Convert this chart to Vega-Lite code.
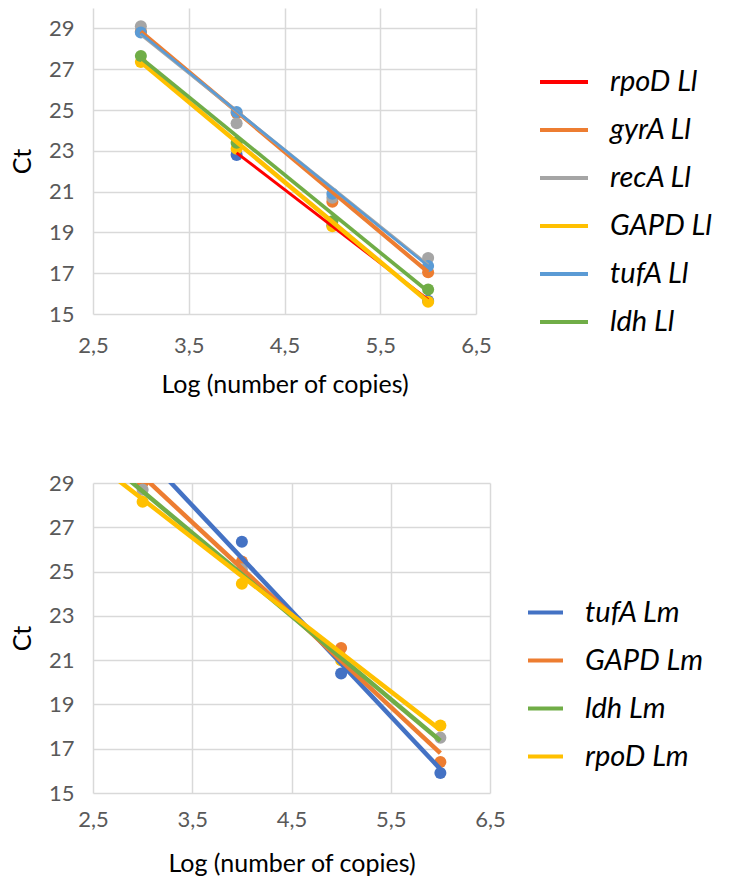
{
  "$schema": "https://vega.github.io/schema/vega-lite/v6.json",
  "padding": {"left": 10, "top": 8, "right": 0, "bottom": 0},
  "config": {
    "font": "Lato",
    "view": {"stroke": null},
    "axis": {
      "grid": true, "gridColor": "#d9d9d9", "gridWidth": 1.5, "domain": false, "ticks": false,
      "labelFont": "Lato", "labelFontSize": 22, "labelColor": "#595959", "labelFlush": false,
      "titleFont": "Lato", "titleFontSize": 25, "titleFontWeight": "normal", "titleColor": "black"
    }
  },
  "datasets": {
    "points": [
      {"chart": "Ll", "series": "rpoD Ll", "x": 4, "ct": 22.8},
      {"chart": "Ll", "series": "rpoD Ll", "x": 5, "ct": 19.35},
      {"chart": "Ll", "series": "rpoD Ll", "x": 6, "ct": 15.65},
      {"chart": "Ll", "series": "gyrA Ll", "x": 3, "ct": 28.85},
      {"chart": "Ll", "series": "gyrA Ll", "x": 4, "ct": 24.85},
      {"chart": "Ll", "series": "gyrA Ll", "x": 5, "ct": 20.5},
      {"chart": "Ll", "series": "gyrA Ll", "x": 6, "ct": 17.05},
      {"chart": "Ll", "series": "recA Ll", "x": 3, "ct": 29.1},
      {"chart": "Ll", "series": "recA Ll", "x": 4, "ct": 24.35},
      {"chart": "Ll", "series": "recA Ll", "x": 5, "ct": 20.7},
      {"chart": "Ll", "series": "recA Ll", "x": 6, "ct": 17.75},
      {"chart": "Ll", "series": "GAPD Ll", "x": 3, "ct": 27.35},
      {"chart": "Ll", "series": "GAPD Ll", "x": 4, "ct": 23.1},
      {"chart": "Ll", "series": "GAPD Ll", "x": 5, "ct": 19.3},
      {"chart": "Ll", "series": "GAPD Ll", "x": 6, "ct": 15.6},
      {"chart": "Ll", "series": "tufA Ll", "x": 3, "ct": 28.8},
      {"chart": "Ll", "series": "tufA Ll", "x": 4, "ct": 24.9},
      {"chart": "Ll", "series": "tufA Ll", "x": 5, "ct": 20.9},
      {"chart": "Ll", "series": "tufA Ll", "x": 6, "ct": 17.35},
      {"chart": "Ll", "series": "ldh Ll", "x": 3, "ct": 27.65},
      {"chart": "Ll", "series": "ldh Ll", "x": 4, "ct": 23.4},
      {"chart": "Ll", "series": "ldh Ll", "x": 5, "ct": 19.55},
      {"chart": "Ll", "series": "ldh Ll", "x": 6, "ct": 16.2},
      {"chart": "Lm", "series": "tufA Lm", "x": 4, "ct": 26.35},
      {"chart": "Lm", "series": "tufA Lm", "x": 5, "ct": 20.4},
      {"chart": "Lm", "series": "tufA Lm", "x": 6, "ct": 15.9},
      {"chart": "Lm", "series": "GAPD Lm", "x": 3, "ct": 29.0},
      {"chart": "Lm", "series": "GAPD Lm", "x": 4, "ct": 25.45},
      {"chart": "Lm", "series": "GAPD Lm", "x": 5, "ct": 21.55},
      {"chart": "Lm", "series": "GAPD Lm", "x": 6, "ct": 16.4},
      {"chart": "Lm", "series": "ldh Lm", "x": 3, "ct": 28.7},
      {"chart": "Lm", "series": "ldh Lm", "x": 4, "ct": 25.1},
      {"chart": "Lm", "series": "ldh Lm", "x": 5, "ct": 21.1},
      {"chart": "Lm", "series": "ldh Lm", "x": 6, "ct": 17.5},
      {"chart": "Lm", "series": "rpoD Lm", "x": 3, "ct": 28.15},
      {"chart": "Lm", "series": "rpoD Lm", "x": 4, "ct": 24.45},
      {"chart": "Lm", "series": "rpoD Lm", "x": 5, "ct": 21.0},
      {"chart": "Lm", "series": "rpoD Lm", "x": 6, "ct": 18.05}
    ],
    "lines": [
      {"chart": "Ll", "series": "rpoD Ll", "x": 4, "ct": 22.9},
      {"chart": "Ll", "series": "rpoD Ll", "x": 6, "ct": 15.7},
      {"chart": "Ll", "series": "gyrA Ll", "x": 3, "ct": 28.85},
      {"chart": "Ll", "series": "gyrA Ll", "x": 6, "ct": 17.05},
      {"chart": "Ll", "series": "recA Ll", "x": 3, "ct": 28.7},
      {"chart": "Ll", "series": "recA Ll", "x": 6, "ct": 17.4},
      {"chart": "Ll", "series": "GAPD Ll", "x": 3, "ct": 27.35},
      {"chart": "Ll", "series": "GAPD Ll", "x": 6, "ct": 15.6},
      {"chart": "Ll", "series": "tufA Ll", "x": 3, "ct": 28.75},
      {"chart": "Ll", "series": "tufA Ll", "x": 6, "ct": 17.35},
      {"chart": "Ll", "series": "ldh Ll", "x": 3, "ct": 27.55},
      {"chart": "Ll", "series": "ldh Ll", "x": 6, "ct": 16.1},
      {"chart": "Lm", "series": "tufA Lm", "x": 2.7, "ct": 31.8},
      {"chart": "Lm", "series": "tufA Lm", "x": 6, "ct": 16.08},
      {"chart": "Lm", "series": "GAPD Lm", "x": 2.7, "ct": 30.56},
      {"chart": "Lm", "series": "GAPD Lm", "x": 6, "ct": 16.8},
      {"chart": "Lm", "series": "ldh Lm", "x": 2.7, "ct": 29.75},
      {"chart": "Lm", "series": "ldh Lm", "x": 6, "ct": 17.36},
      {"chart": "Lm", "series": "rpoD Lm", "x": 2.7, "ct": 29.31},
      {"chart": "Lm", "series": "rpoD Lm", "x": 6, "ct": 17.85}
    ]
  },
  "spacing": 75,
  "resolve": {
    "scale": {"x": "independent", "y": "independent", "fill": "independent", "color": "independent", "strokeWidth": "independent"},
    "legend": {"color": "independent"}
  },
  "vconcat": [
    {
      "width": 383,
      "height": 306,
      "encoding": {
        "x": {"field": "x", "type": "quantitative",
          "scale": {"domain": [2.5, 6.5], "nice": false, "zero": false},
          "axis": {"values": [2.5, 3.5, 4.5, 5.5, 6.5], "labelExpr": "replace(format(datum.value, '.1f'), '.', ',')",
            "title": "Log (number of copies)", "labelPadding": 21, "titlePadding": 16}},
        "y": {"field": "ct", "type": "quantitative",
          "scale": {"domain": [15, 30], "nice": false, "zero": false},
          "axis": {"values": [15, 17, 19, 21, 23, 25, 27, 29], "title": "Ct", "labelPadding": 19, "titlePadding": 13}}
      },
      "layer": [
        {
          "data": {"name": "points"},
          "transform": [{"filter": "datum.chart == 'Ll'"}],
          "mark": {"type": "circle", "size": 145, "opacity": 1},
          "encoding": {
            "fill": {"field": "series", "type": "nominal", "legend": null,
              "scale": {"domain": ["ldh Ll", "tufA Ll", "GAPD Ll", "recA Ll", "gyrA Ll", "rpoD Ll"],
                "range": ["#70AD47", "#5B9BD5", "#FFC000", "#A5A5A5", "#ED7D31", "#4472C4"]}}
          }
        },
        {
          "data": {"name": "lines"},
          "transform": [{"filter": "datum.chart == 'Ll'"}],
          "mark": {"type": "line"},
          "encoding": {
            "color": {"field": "series", "type": "nominal",
              "scale": {"domain": ["rpoD Ll", "gyrA Ll", "recA Ll", "GAPD Ll", "tufA Ll", "ldh Ll"],
                "range": ["#FF0000", "#ED7D31", "#A5A5A5", "#FFC000", "#5B9BD5", "#70AD47"]},
              "legend": {"title": null, "orient": "none", "legendX": 445, "legendY": 48, "padding": 0, "symbolSize": 2304,
                "symbolType": "stroke", "symbolStrokeWidth": 4, "labelFont": "Lato", "labelFontSize": 29, "labelFontStyle": "italic",
                "labelColor": "black", "labelOffset": 20, "labelLimit": 400, "rowPadding": 7}},
            "strokeWidth": {"field": "series", "type": "nominal", "legend": null,
              "scale": {"domain": ["GAPD Ll", "gyrA Ll", "ldh Ll", "recA Ll", "rpoD Ll", "tufA Ll"],
                "range": [4.5, 2.5, 4.5, 4.5, 3.5, 5]}}
          }
        }
      ]
    },
    {
      "width": 397,
      "height": 310,
      "encoding": {
        "x": {"field": "x", "type": "quantitative",
          "scale": {"domain": [2.5, 6.5], "nice": false, "zero": false},
          "axis": {"values": [2.5, 3.5, 4.5, 5.5, 6.5], "labelExpr": "replace(format(datum.value, '.1f'), '.', ',')",
            "title": "Log (number of copies)", "labelPadding": 16, "titlePadding": 21}},
        "y": {"field": "ct", "type": "quantitative",
          "scale": {"domain": [15, 29], "nice": false, "zero": false},
          "axis": {"values": [15, 17, 19, 21, 23, 25, 27, 29], "title": "Ct", "labelPadding": 19, "titlePadding": 13}}
      },
      "layer": [
        {
          "data": {"name": "points"},
          "transform": [{"filter": "datum.chart == 'Lm'"}],
          "mark": {"type": "circle", "size": 145, "opacity": 1, "clip": true},
          "encoding": {
            "fill": {"field": "series", "type": "nominal", "legend": null,
              "scale": {"domain": ["rpoD Lm", "ldh Lm", "GAPD Lm", "tufA Lm"],
                "range": ["#FFC000", "#A5A5A5", "#ED7D31", "#4472C4"]}}
          }
        },
        {
          "data": {"name": "lines"},
          "transform": [{"filter": "datum.chart == 'Lm'"}],
          "mark": {"type": "line", "strokeWidth": 4.5, "clip": true},
          "encoding": {
            "color": {"field": "series", "type": "nominal",
              "scale": {"domain": ["tufA Lm", "GAPD Lm", "ldh Lm", "rpoD Lm"],
                "range": ["#4472C4", "#ED7D31", "#70AD47", "#FFC000"]},
              "legend": {"title": null, "orient": "none", "legendX": 433, "legendY": 110, "padding": 0, "symbolSize": 1225,
                "symbolType": "stroke", "symbolStrokeWidth": 4, "labelFont": "Lato", "labelFontSize": 29, "labelFontStyle": "italic",
                "labelColor": "black", "labelOffset": 20, "labelLimit": 400, "rowPadding": 13}}
          }
        }
      ]
    }
  ]
}
